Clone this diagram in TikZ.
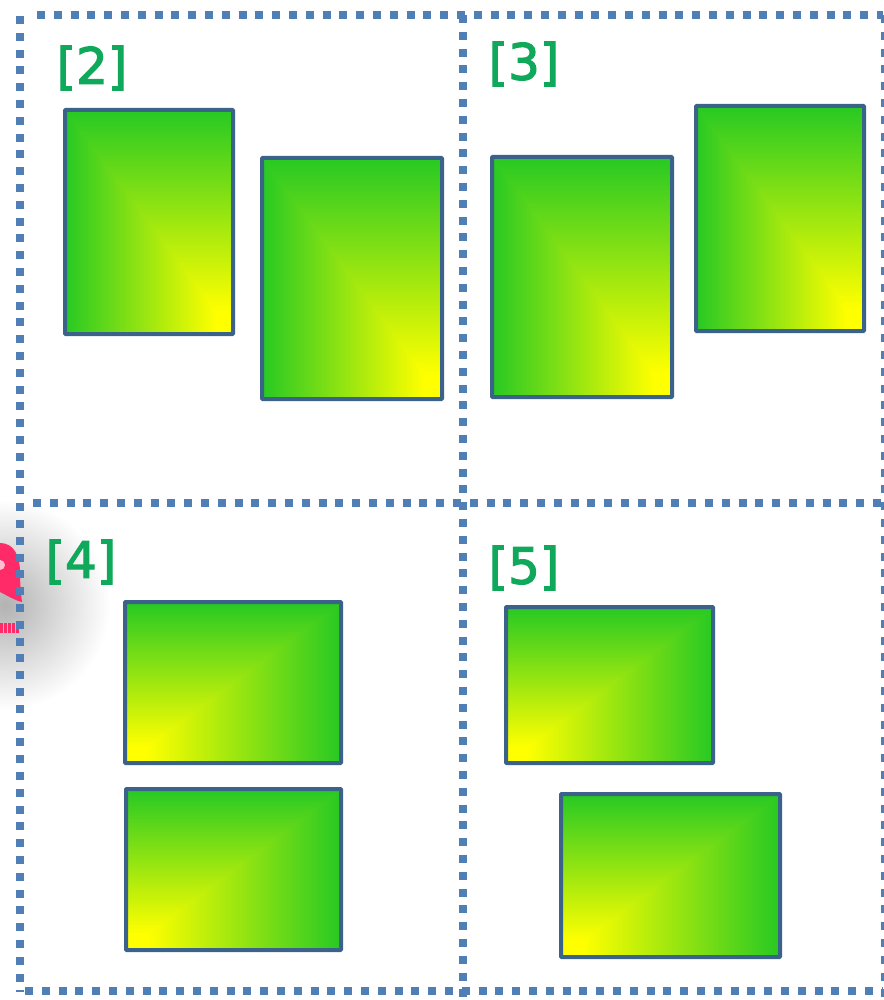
\documentclass[tikz,border=0pt]{standalone}
\usepackage{fontspec}
\setmainfont{DejaVu Sans}
\newfontfamily\tagfont[FakeBold=2.4]{DejaVu Sans}
\usepackage{xcolor}
\usetikzlibrary{positioning}
\definecolor{dotblue}{HTML}{4F7FB5}
\definecolor{edgeblue}{HTML}{3B6289}
\definecolor{tagreen}{HTML}{10A85A}
\definecolor{wmpink}{HTML}{FF2A68}
% yellow in one lower corner, green away from it
\pgfdeclarefunctionalshading{cornerright}{\pgfpoint{-50bp}{-50bp}}{\pgfpoint{50bp}{50bp}}{}{
25 add exch 25 exch sub 2 copy lt {exch} if pop 50 div 0.1 sub 0.85 div
dup 0.8 mul 1 exch sub exch dup 0.2 mul 1 exch sub exch 0.13 mul}
\pgfdeclarefunctionalshading{cornerleft}{\pgfpoint{-50bp}{-50bp}}{\pgfpoint{50bp}{50bp}}{}{
25 add exch 25 add 2 copy lt {exch} if pop 50 div 0.1 sub 0.85 div
dup 0.8 mul 1 exch sub exch dup 0.2 mul 1 exch sub exch 0.13 mul}

\begin{document}
\begin{tikzpicture}[
x=1pt, y=-1pt,
dots/.style={draw=dotblue, line width=7.5pt, dash pattern=on 8pt off 8.8pt},
boxr/.style={draw=edgeblue, line width=4pt, inner sep=0pt, rounded corners=0.8pt, shading=cornerright},
boxl/.style={draw=edgeblue, line width=4pt, inner sep=0pt, rounded corners=0.8pt, shading=cornerleft},
tag/.style={text=tagreen, font=\tagfont\fontsize{50}{50}\selectfont, inner sep=0pt}
]
\useasboundingbox (0,0) rectangle (883,1000);

% watermark at the left edge
\shade[inner color=black!30, outer color=white] (5,605) circle (105);
\fill[wmpink] (0,543) .. controls (14,543) and (20,556) .. (20,572) .. controls (20,584) and (21,594) .. (22,602) .. controls (14,600) and (8,596) .. (0,592) -- cycle;
\fill[white!70!wmpink] (0,565) circle (5);
\foreach \wmx in {0,4,8,12,16}
  \fill[wmpink] (\wmx,623) rectangle ++(2.5,10);

% frame
\coordinate (tl) at (37,15);
\coordinate (tr) at (883,15);
\coordinate (lt) at (20,16);
\coordinate (lb) at (20,992);
\coordinate (mt) at (463,15);
\coordinate (mb) at (463,1000);
\coordinate (ml) at (33,503);
\coordinate (mr) at (883,503);
\coordinate (bl) at (25,991);
\coordinate (br) at (883,991);
\coordinate (rt) at (885,15);
\coordinate (rb) at (885,1000);
\draw[dots] (tl) -- (tr);
\draw[dots] (lt) -- (lb);
\draw[dots] (mt) -- (mb);
\draw[dots] (ml) -- (mr);
\draw[dots] (bl) -- (br);
\draw[dots] (rt) -- (rb);

\node[tag] (two) at (92,68) {[2]};
\node[tag] (three) at (524,64) {[3]};
\node[tag] (four) at (81,562) {[4]};
\node[tag] (five) at (524,568) {[5]};

\node[boxr, minimum width=168pt, minimum height=224pt] (boxa) at (149,222) {};
\node[boxr, minimum width=180pt, minimum height=241pt] (boxb) at (352,278.5) {};
\node[boxr, minimum width=180pt, minimum height=240pt] (boxc) at (582,277) {};
\node[boxr, minimum width=168pt, minimum height=225pt] (boxd) at (780,218.5) {};
\node[boxl, minimum width=216pt, minimum height=161pt] (boxe) at (233,682.5) {};
\node[boxl, minimum width=215pt, minimum height=161pt] (boxf) at (233.5,869.5) {};
\node[boxl, minimum width=207pt, minimum height=156pt] (boxg) at (609.5,685) {};
\node[boxl, minimum width=219pt, minimum height=163pt] (boxh) at (670.5,875.5) {};
\end{tikzpicture}
\end{document}
